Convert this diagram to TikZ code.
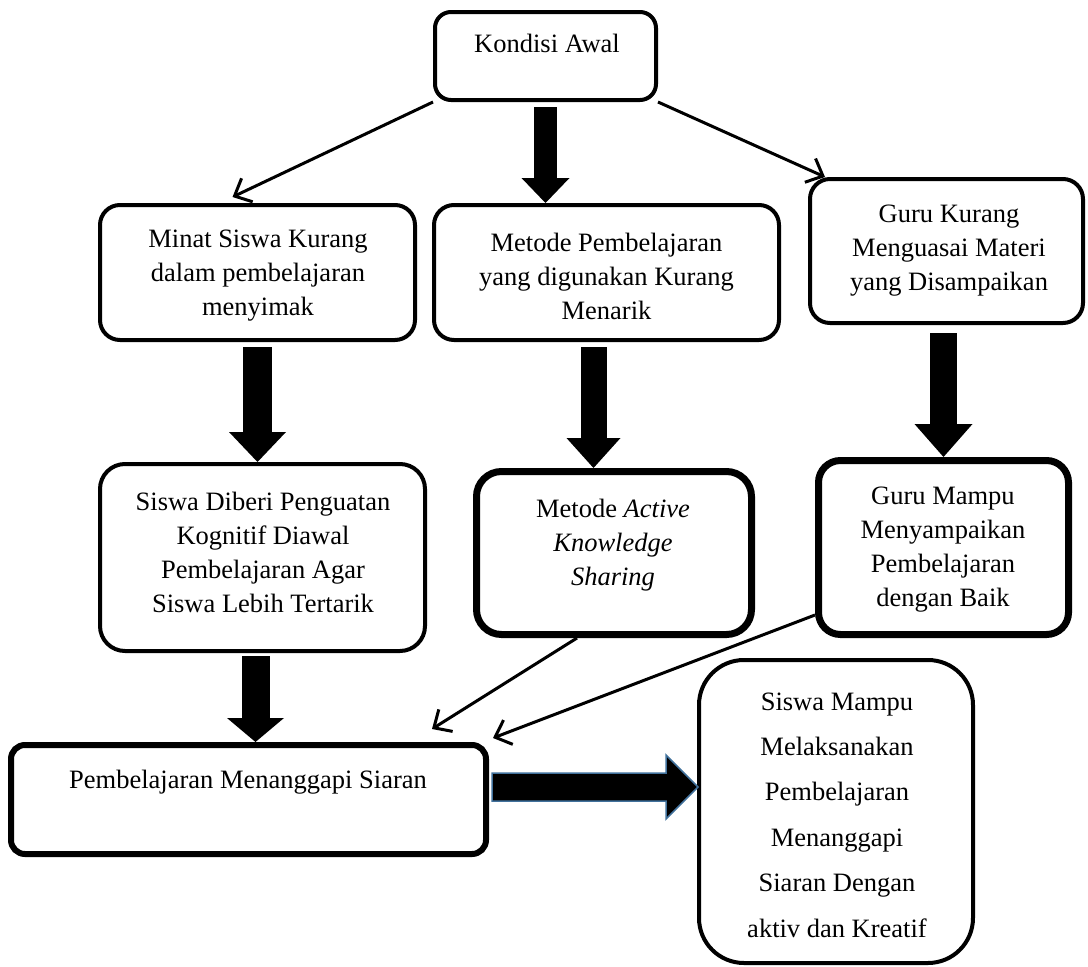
\documentclass[tikz,border=0pt]{standalone}
\usepackage{fontspec}
\setmainfont{Liberation Serif}
\usetikzlibrary{arrows.meta,calc}
\definecolor{arrowblue}{RGB}{65,113,156}
\begin{document}
\begin{tikzpicture}[x=1pt,y=-1pt,
  box/.style n args={4}{draw=black,line width=#4,rounded corners=#3,
     minimum width=#1,minimum height=#2,inner sep=0pt},
  txt/.style={font=\fontsize{26.5}{34}\selectfont,align=center,inner sep=0pt},
  thinarrow/.style={line width=3pt,-{Straight Barb[length=14pt,width=26pt]}},
  blk/.style n args={3}{line width=#1,-{Triangle[length=#3,width=#2,line width=0pt]}},
  bluearrow/.style={fill=black,draw=arrowblue,line width=1.5pt,line join=miter}
]
\useasboundingbox (0,0) rectangle (1088,967);

% boxes
\node[box={221pt}{88pt}{16pt}{4pt}] (k) at (545.5,56) {};
\node[box={315pt}{135pt}{20pt}{4pt}] (m) at (257.5,272.5) {};
\node[box={345pt}{135pt}{20pt}{4pt}] (mp) at (606.5,272.5) {};
\node[box={273pt}{144pt}{20pt}{4pt}] (gk) at (946.5,251) {};
\node[box={325pt}{187pt}{25pt}{4pt}] (sd) at (262.5,557.5) {};
\node[box={275pt}{163pt}{25pt}{7pt}] (ma) at (614,553) {};
\node[box={250pt}{174pt}{22pt}{7pt}] (gm) at (943.5,547.5) {};
\node[box={475pt}{109pt}{14pt}{6pt}] (pb) at (248.5,799.5) {};
\node[box={274pt}{303pt}{45pt}{4pt}] (sm) at (836,811.5) {};

% texts
\node[txt,anchor=base] (kt) at (547,52) {Kondisi Awal};
\node[txt] (mt) at (258,276) {Minat Siswa Kurang\\dalam pembelajaran\\menyimak};
\node[txt] (mpt) at (606.5,276) {Metode Pembelajaran\\yang digunakan Kurang\\Menarik};
\node[txt] (gkt) at (949,251) {Guru Kurang\\Menguasai Materi\\yang Disampaikan};
\node[txt] (sdt) at (263,552) {Siswa Diberi Penguatan\\Kognitif Diawal\\Pembelajaran Agar\\Siswa Lebih Tertarik};
\node[txt] (mat) at (613,545) {Metode \textit{Active}\\\textit{Knowledge}\\\textit{Sharing}};
\node[txt] (gmt) at (943,550) {Guru Mampu\\Menyampaikan\\Pembelajaran\\dengan Baik};
\node[txt,anchor=base] (pbt) at (248,788) {Pembelajaran Menanggapi Siaran};
\node[txt,font=\fontsize{26.5}{45.4}\selectfont] (smt) at (837,815) {Siswa Mampu\\Melaksanakan\\Pembelajaran\\Menanggapi\\Siaran Dengan\\aktiv dan Kreatif};

% thin arrows
\draw[thinarrow] (k.south west) -- ([xshift=-25pt,yshift=6pt]m.north);
\draw[thinarrow] (k.south east) -- ([xshift=17pt]gk.north west);
\draw[thinarrow] ([xshift=-37pt]ma.south) -- ([xshift=-57pt,yshift=13pt]pb.north east);
\draw[thinarrow] ([yshift=23pt]gm.south west) -- ([xshift=4pt,yshift=4pt]pb.north east);

% block arrows
\coordinate (a1) at ([yshift=-5pt]k.south);
\draw[blk={23pt}{48pt}{25pt}] (a1) -- (a1 |- mp.north);
\coordinate (b1) at ([yshift=-5pt]m.south);
\draw[blk={29pt}{57pt}{30pt}] (b1) -- (b1 |- sd.north);
\coordinate (c1) at ([xshift=-13pt,yshift=-5pt]mp.south);
\draw[blk={26pt}{54pt}{30pt}] (c1) -- (c1 |- ma.north);
\coordinate (d0) at (gm.north |- gk.south);
\coordinate (d1) at ([yshift=-8pt]d0);
\draw[blk={27pt}{58pt}{33pt}] (d1) -- (gm.north);
\coordinate (e1) at ([xshift=-7pt,yshift=-3pt]sd.south);
\draw[blk={28pt}{57pt}{24pt}] (e1) -- (e1 |- pb.north);

% blue outlined block arrow
\coordinate (fa) at ([yshift=12.5pt]pb.east);
\coordinate (fb) at (sm.west |- fa);
\filldraw[bluearrow] ($(fa)+(3,-14)$) -- ($(fb)+(-31,-14)$) -- ($(fb)+(-31,-32)$)
  -- ($(fb)+(1,0)$) -- ($(fb)+(-31,32)$) -- ($(fb)+(-31,14)$) -- ($(fa)+(3,14)$) -- cycle;
\end{tikzpicture}
\end{document}
